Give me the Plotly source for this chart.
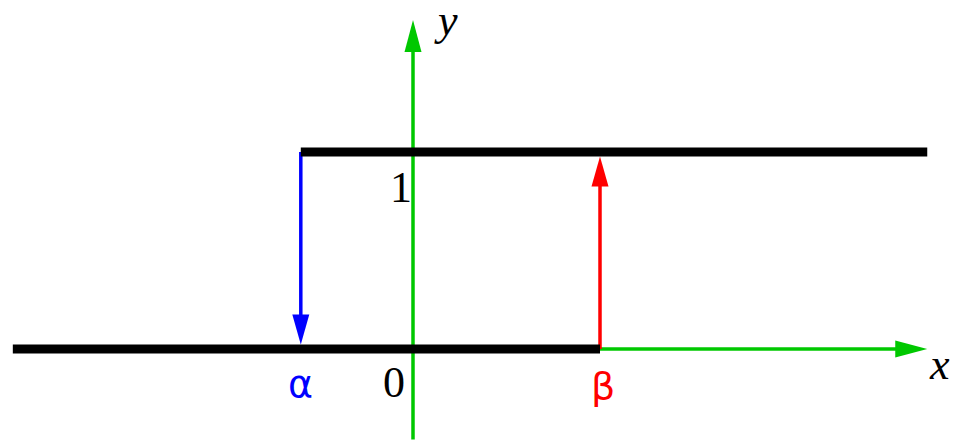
import plotly.graph_objects as go

# hysteresis levels and switching points
alpha = -0.6
beta = 1.0
y_low, y_high = 0.0, 1.0
lower_x = [-2.14, beta]
upper_x = [alpha, 2.75]
xaxis_x = [beta, 2.75]
yaxis_y = [-0.46, 1.67]

tick_labels = ["0", "1"]
point_labels = ["α", "β"]
axis_labels = ["x", "y"]

W, H = 960, 447
SX, SY = 187.0, 197.0          # px per data unit
x_range = [-413 / SX, (W - 413) / SX]
y_range = [(349 - H) / SY, 349 / SY]

GREEN = "#00c800"
BLUE = "#0000ff"
RED = "#ff0000"


def head(tip_x, tip_y, dx, dy, color, length=32, width=17):
    # triangle pointing in (dx, dy) direction (pixel space, y up)
    bx = tip_x - dx * length / SX
    by = tip_y - dy * length / SY
    px, py = -dy, dx
    xs = [tip_x, bx + px * width / 2 / SX, bx - px * width / 2 / SX, tip_x]
    ys = [tip_y, by + py * width / 2 / SY, by - py * width / 2 / SY, tip_y]
    return go.Scatter(x=xs, y=ys, mode="lines", fill="toself", fillcolor=color,
                      line=dict(width=0, color=color), hoverinfo="skip")


def seg(xs, ys, color, width):
    return go.Scatter(x=xs, y=ys, mode="lines", line=dict(color=color, width=width),
                      hoverinfo="skip")


fig = go.Figure()
# green axes
fig.add_trace(seg([0, 0], [yaxis_y[0], yaxis_y[1] - 30 / SY], GREEN, 3.5))
fig.add_trace(head(0, yaxis_y[1], 0, 1, GREEN))
fig.add_trace(seg([xaxis_x[0], xaxis_x[1] - 30 / SX], [0, 0], GREEN, 3.5))
fig.add_trace(head(xaxis_x[1], 0, 1, 0, GREEN))

# switching arrows
gap = 4.5 / SY
fig.add_trace(seg([alpha, alpha], [y_high, y_low + gap + 28 / SY], BLUE, 3.5))
fig.add_trace(head(alpha, y_low + gap, 0, -1, BLUE, length=30))
fig.add_trace(seg([beta, beta], [y_low, y_high - gap - 28 / SY], RED, 3.5))
fig.add_trace(head(beta, y_high - gap, 0, 1, RED, length=30))

# branches
fig.add_trace(seg(lower_x, [y_low, y_low], "black", 9))
fig.add_trace(seg(upper_x, [y_high, y_high], "black", 9))

serif = "Liberation Serif"
fsize = 44
texts = [
    (tick_labels[0], -0.10, -0.17, "black", serif, False),
    (tick_labels[1], -0.064, 0.82, "black", serif, False),
    (point_labels[0], alpha, -0.18, BLUE, "DejaVu Sans", False),
    (point_labels[1], beta + 0.016, -0.19, RED, "DejaVu Sans", False),
    (axis_labels[0], 2.818, -0.08, "black", serif, True),
    (axis_labels[1], 0.176, 1.67, "black", serif, True),
]
for t, x, y, c, f, it in texts:
    fig.add_annotation(x=x, y=y, xref="x", yref="y", showarrow=False,
                       text=f"<i>{t}</i>" if it else t,
                       font=dict(family=f, size=fsize if f == serif else 38, color=c),
                       xanchor="center", yanchor="middle")

fig.update_layout(
    width=W, height=H, showlegend=False,
    margin=dict(l=0, r=0, t=0, b=0),
    plot_bgcolor="white", paper_bgcolor="white",
    xaxis=dict(range=x_range, visible=False, fixedrange=True),
    yaxis=dict(range=y_range, visible=False, fixedrange=True),
)
fig.write_html("out.html", config={"staticPlot": True},
               post_script="document.body.style.margin='0';document.body.style.overflow='hidden';")
